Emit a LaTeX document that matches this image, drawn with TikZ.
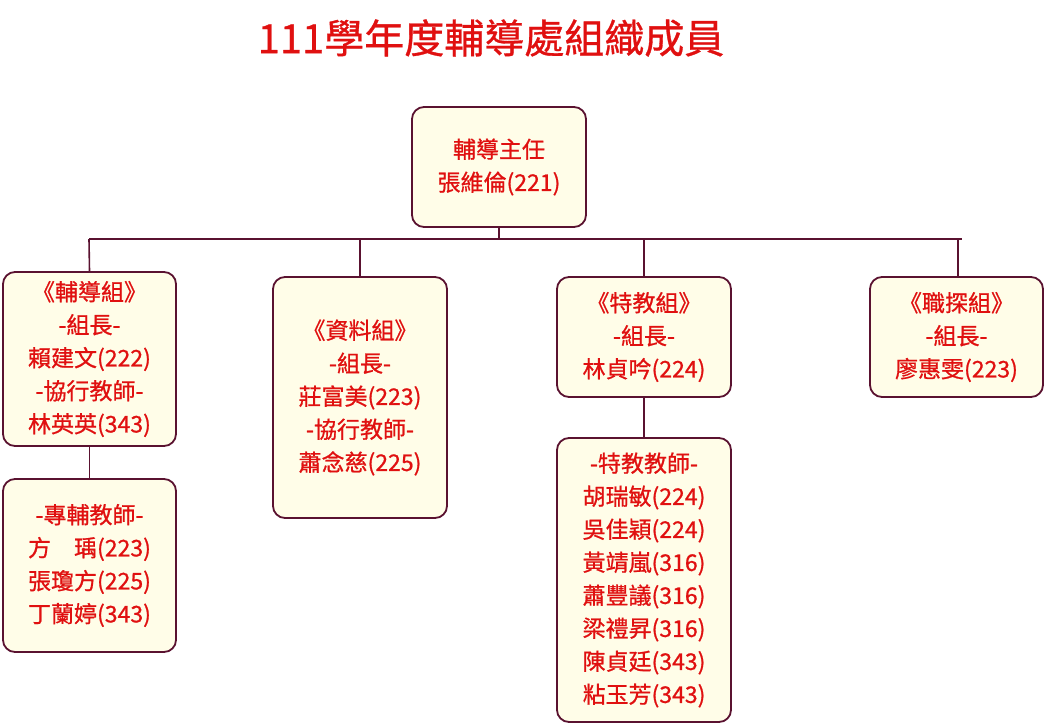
\documentclass[tikz,border=0pt]{standalone}
\usepackage{fontspec}
\setmainfont{Noto Sans CJK TC}[BoldFont={Noto Sans CJK TC},BoldFeatures={FakeBold=0.8}]
\definecolor{bx}{HTML}{FFFDE8}
\definecolor{bd}{HTML}{5A1230}
\definecolor{tx}{HTML}{E01010}
\begin{document}
\begin{tikzpicture}[x=1pt,y=-1pt,
 box/.style={draw=bd,line width=1.8pt,fill=bx,rounded corners=12pt,text=tx,align=center,font=\fontsize{23}{33}\selectfont\bfseries,inner sep=0pt},
 ln/.style={draw=bd,line width=1.6pt}]
\useasboundingbox (0,0) rectangle (1047,726);
\node[text=tx,font=\fontsize{40}{44}\selectfont\bfseries] (title) at (491,38) {111學年度輔導處組織成員};
\node[box,minimum width=174pt,minimum height=120pt] (top) at (499,167) {輔導主任\\張維倫(221)};
\node[box,minimum width=173pt,minimum height=174pt] (a) at (89.5,359) {《輔導組》\\-組長-\\賴建文(222)\\-協行教師-\\林英英(343)};
\node[box,minimum width=173pt,minimum height=173pt] (a2) at (89.5,565.5) {-專輔教師-\\方\quad 瑀(223)\\張瓊方(225)\\丁蘭婷(343)};
\node[box,minimum width=174pt,minimum height=241pt] (b) at (360,397.5) {《資料組》\\-組長-\\莊富美(223)\\-協行教師-\\蕭念慈(225)};
\node[box,minimum width=174pt,minimum height=120pt] (c) at (644,337) {《特教組》\\-組長-\\林貞吟(224)};
\node[box,minimum width=174pt,minimum height=284pt] (c2) at (644,580) {-特教教師-\\胡瑞敏(224)\\吳佳穎(224)\\黃靖嵐(316)\\蕭豐議(316)\\梁禮昇(316)\\陳貞廷(343)\\粘玉芳(343)};
\node[box,minimum width=173pt,minimum height=120pt] (d) at (956.5,337) {《職探組》\\-組長-\\廖惠雯(223)};
\coordinate (hl) at (89,239); \coordinate (hr) at (962,239);
\draw[ln] (hl) -- (hr);
\draw[ln] (top.south) -- (499,239);
\draw[ln] (hl) -- (a.north);
\draw[ln] (360,239) -- (b.north);
\draw[ln] (644,239) -- (c.north);
\draw[ln] (958,239) -- (d.north -| 958,0);
\draw[ln] (a.south) -- (a2.north);
\draw[ln] (c.south) -- (c2.north);
\end{tikzpicture}
\end{document}
